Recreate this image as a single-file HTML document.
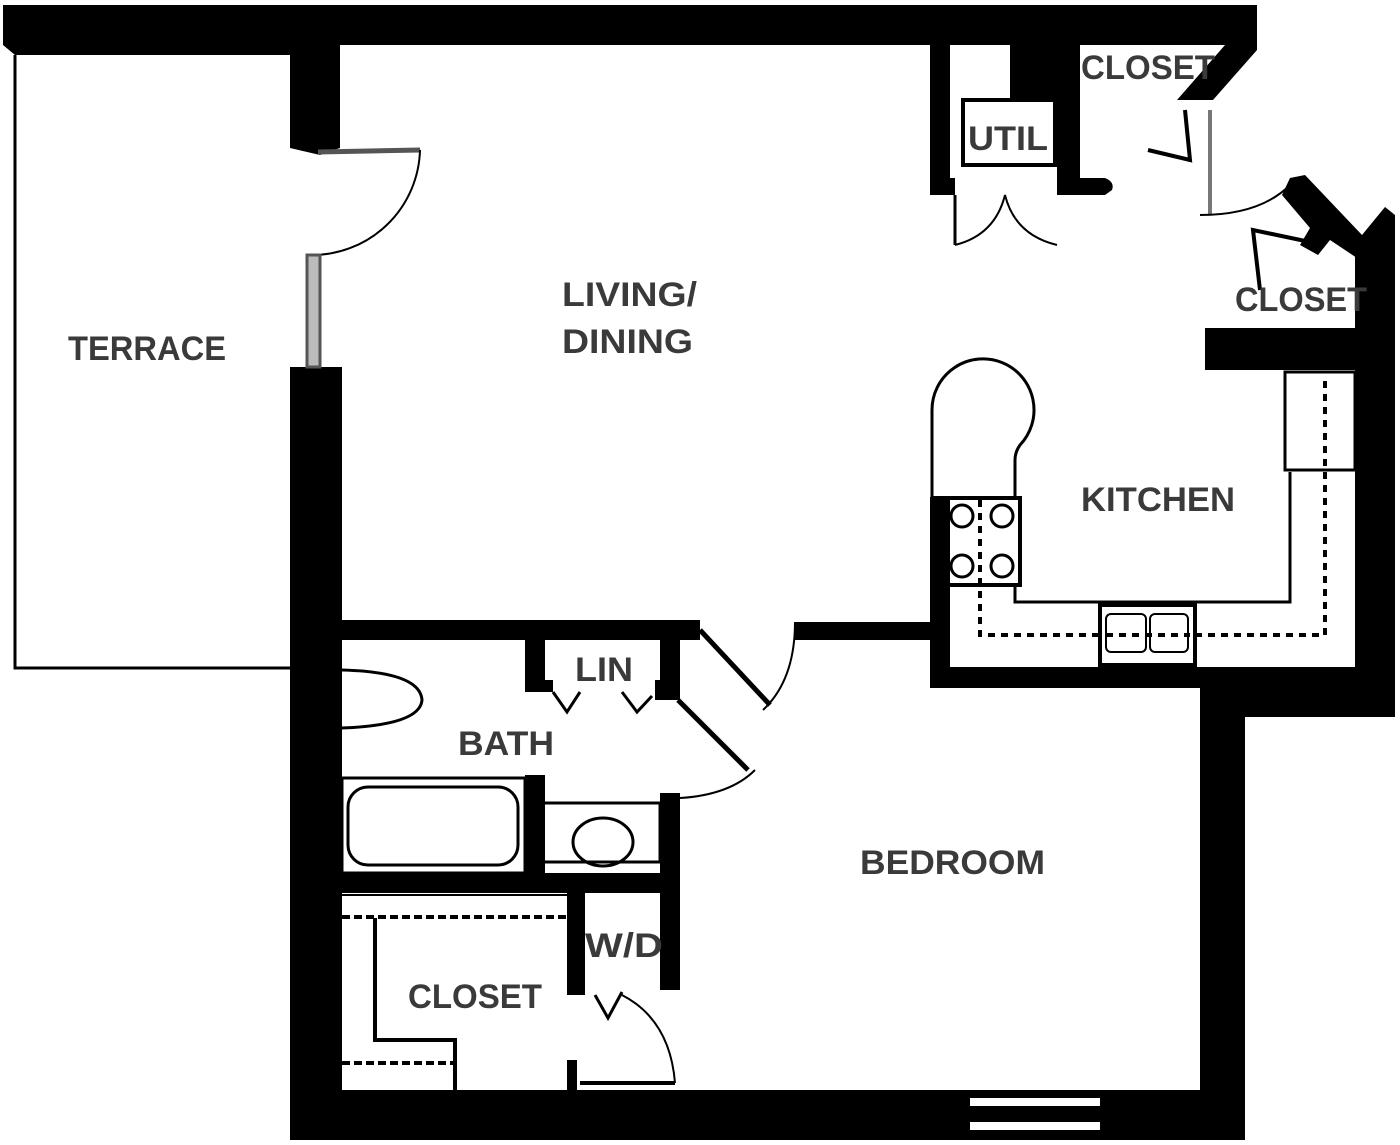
<!DOCTYPE html>
<html><head><style>html,body{margin:0;padding:0;background:#fff}svg{display:block}
text{font-family:"Liberation Sans",sans-serif;font-weight:bold;fill:#3a3a3a;font-size:34px}</style></head>
<body>
<svg width="1400" height="1145" viewBox="0 0 1400 1145" xmlns="http://www.w3.org/2000/svg">
<g fill="#000">
<!-- top wall -->
<polygon points="3,5 1257,5 1257,50 1213,100 1177,100 1225,45 340,45 340,45 290,45 290,55 15,55 3,45"/>
<!-- terrace stub -->
<polygon points="290,45 340,45 340,148 320,155 290,148"/>
<!-- left bedroom/living wall -->
<rect x="290" y="367" width="52" height="773"/>
<!-- bottom wall -->
<rect x="290" y="1090" width="955" height="50"/>
<!-- bedroom right wall -->
<rect x="1200" y="667" width="45" height="473"/>
<!-- kitchen bottom wall -->
<rect x="930" y="667" width="465" height="21"/>
<rect x="1200" y="680" width="195" height="37"/>
<!-- kitchen left wall -->
<rect x="930" y="497" width="20" height="191"/>
<!-- right outer wall -->
<polygon points="1375,380 1395,380 1395,717 1355,717 1355,370 1375,370"/>
<rect x="1355" y="240" width="40" height="150"/>
<polygon points="1290,178 1305,175 1362,235 1385,207 1395,215 1395,250 1360,260 1330,240 1318,255 1300,245 1310,228 1282,195"/>
<!-- closet wall above kitchen -->
<rect x="1205" y="328" width="190" height="42"/>
<!-- util walls -->
<rect x="930" y="45" width="20" height="150"/>
<rect x="930" y="178" width="25" height="17"/>
<rect x="1010" y="45" width="70" height="53"/>
<rect x="1057" y="45" width="23" height="150"/>
<path d="M1057,178 H1105 Q1115,182 1112,190 L1105,195 H1057 Z"/>
<!-- bath top wall -->
<rect x="340" y="620" width="360" height="20"/>
<rect x="795" y="622" width="135" height="18"/>
<!-- LIN walls -->
<polygon points="525,640 545,640 545,680 553,680 553,692 525,692"/>
<polygon points="660,640 680,640 680,700 655,700 655,680 660,680"/>
<!-- tub divider & bath lower wall -->
<rect x="525" y="775" width="20" height="100"/>
<rect x="340" y="873" width="340" height="20"/>
<rect x="660" y="793" width="20" height="100"/>
<!-- closet/wd walls -->
<rect x="567" y="880" width="18" height="115"/>
<rect x="660" y="880" width="20" height="110"/>
<rect x="567" y="1060" width="10" height="30"/>
</g>
<g fill="none" stroke="#000" stroke-width="3">
<!-- terrace outline -->
<polyline points="15,55 15,668 290,668"/>
<!-- terrace door -->
<line x1="318" y1="152" x2="420" y2="150" stroke="#555" stroke-width="5"/>
<path d="M420,150 A108,108 0 0 1 310,255" stroke-width="2"/>
<rect x="307" y="255" width="13" height="112" stroke="#555" stroke-width="3" fill="#bbb"/>
<!-- util -->
<rect x="963" y="100" width="92" height="65" stroke-width="4"/>
<polyline points="955,195 955,245 M1057,195 1057,245" stroke-width="3"/>
<path d="M955,245 Q995,235 1005,195 Q1015,235 1057,245" stroke-width="2"/>
<!-- closet doors upper right -->
<polyline points="1148,150 1190,160 1185,110" stroke-width="4"/>
<line x1="1210" y1="110" x2="1210" y2="215" stroke="#777" stroke-width="4"/>
<path d="M1200,215 Q1260,215 1290,185" stroke-width="2"/>
<polyline points="1260,290 1253,230 1310,242" stroke-width="4"/>
<!-- peninsula -->
<path d="M932,497 V410 A51,51 0 1 1 1020,445 Q1015,452 1015,460 V500" stroke-width="3"/>
<!-- counter -->
<polyline points="1015,585 1015,602 1290,602 1290,472"/>
<rect x="1285" y="372" width="70" height="98"/>
<rect x="950" y="585" width="150" height="82" stroke="none"/>
<!-- stove -->
<rect x="935" y="498" width="85" height="87" stroke-width="4"/>
<circle cx="962" cy="516" r="11"/><circle cx="1002" cy="516" r="11"/>
<circle cx="962" cy="566" r="11"/><circle cx="1002" cy="566" r="11"/>
<!-- sink -->
<rect x="1100" y="605" width="95" height="60" stroke-width="4"/>
<rect x="1106" y="614" width="40" height="38" rx="5" stroke-width="2"/>
<rect x="1150" y="614" width="38" height="38" rx="5" stroke-width="2"/>
<!-- dashed -->
<g stroke-dasharray="7,6" stroke-width="4">
<polyline points="980,500 980,635 1100,635"/>
<polyline points="1195,635 1325,635 1325,378"/>
<line x1="1106" y1="635" x2="1190" y2="635"/>
</g>
<!-- bedroom door to living -->
<line x1="700" y1="630" x2="770" y2="705" stroke-width="5"/>
<path d="M795,622 Q795,680 763,710" stroke-width="2"/>
<!-- bath door -->
<line x1="678" y1="700" x2="748" y2="770" stroke-width="5"/>
<path d="M755,770 Q730,795 680,798" stroke-width="2"/>
<!-- LIN doors -->
<polyline points="553,692 567,712 580,692" stroke-width="3"/>
<polyline points="622,692 637,712 652,696" stroke-width="3"/>
<!-- toilet -->
<path d="M342,670 Q420,672 422,700 Q420,725 342,728" stroke-width="3"/>
<!-- tub -->
<rect x="342" y="778" width="183" height="95" stroke-width="3"/>
<rect x="348" y="787" width="170" height="78" rx="20" stroke-width="3"/>
<!-- vanity -->
<polyline points="545,803 660,803 660,862 545,862" stroke-width="3"/>
<ellipse cx="603" cy="842" rx="30" ry="24" stroke-width="3"/>
<!-- closet shelves -->
<line x1="342" y1="895" x2="567" y2="895" stroke-width="2"/>
<g stroke-dasharray="8,4" stroke-width="4">
<line x1="342" y1="917" x2="567" y2="917"/>
<line x1="342" y1="1063" x2="455" y2="1063"/>
</g>
<polyline points="375,918 375,1040 455,1040 455,1090" stroke-width="4"/>
<!-- closet door -->
<polyline points="595,995 608,1018 622,992" stroke-width="3"/>
<path d="M622,995 Q670,1020 675,1083" stroke-width="2"/>
<line x1="580" y1="1083" x2="675" y2="1083" stroke-width="4"/>
</g>
<!-- window bottom -->
<g fill="#fff"><rect x="970" y="1098" width="130" height="8"/><rect x="970" y="1122" width="130" height="8"/></g>
<!-- labels -->
<rect x="1080" y="48" width="138" height="38" fill="#fff" opacity="0"/>
<text x="68" y="360" textLength="158" lengthAdjust="spacingAndGlyphs">TERRACE</text>
<text x="562" y="306" textLength="135" lengthAdjust="spacingAndGlyphs">LIVING/</text>
<text x="562" y="353" textLength="131" lengthAdjust="spacingAndGlyphs">DINING</text>
<text x="1081" y="511" textLength="154" lengthAdjust="spacingAndGlyphs">KITCHEN</text>
<text x="860" y="874" textLength="185" lengthAdjust="spacingAndGlyphs">BEDROOM</text>
<text x="458" y="755" textLength="96" lengthAdjust="spacingAndGlyphs">BATH</text>
<text x="575" y="681" textLength="58" lengthAdjust="spacingAndGlyphs">LIN</text>
<text x="585" y="957" textLength="78" lengthAdjust="spacingAndGlyphs">W/D</text>
<text x="408" y="1008" textLength="134" lengthAdjust="spacingAndGlyphs">CLOSET</text>
<text x="968" y="150" textLength="80" lengthAdjust="spacingAndGlyphs">UTIL</text>
<text x="1081" y="79" textLength="134" lengthAdjust="spacingAndGlyphs">CLOSET</text>
<text x="1235" y="311" textLength="132" lengthAdjust="spacingAndGlyphs">CLOSET</text>
</svg>
</body></html>
